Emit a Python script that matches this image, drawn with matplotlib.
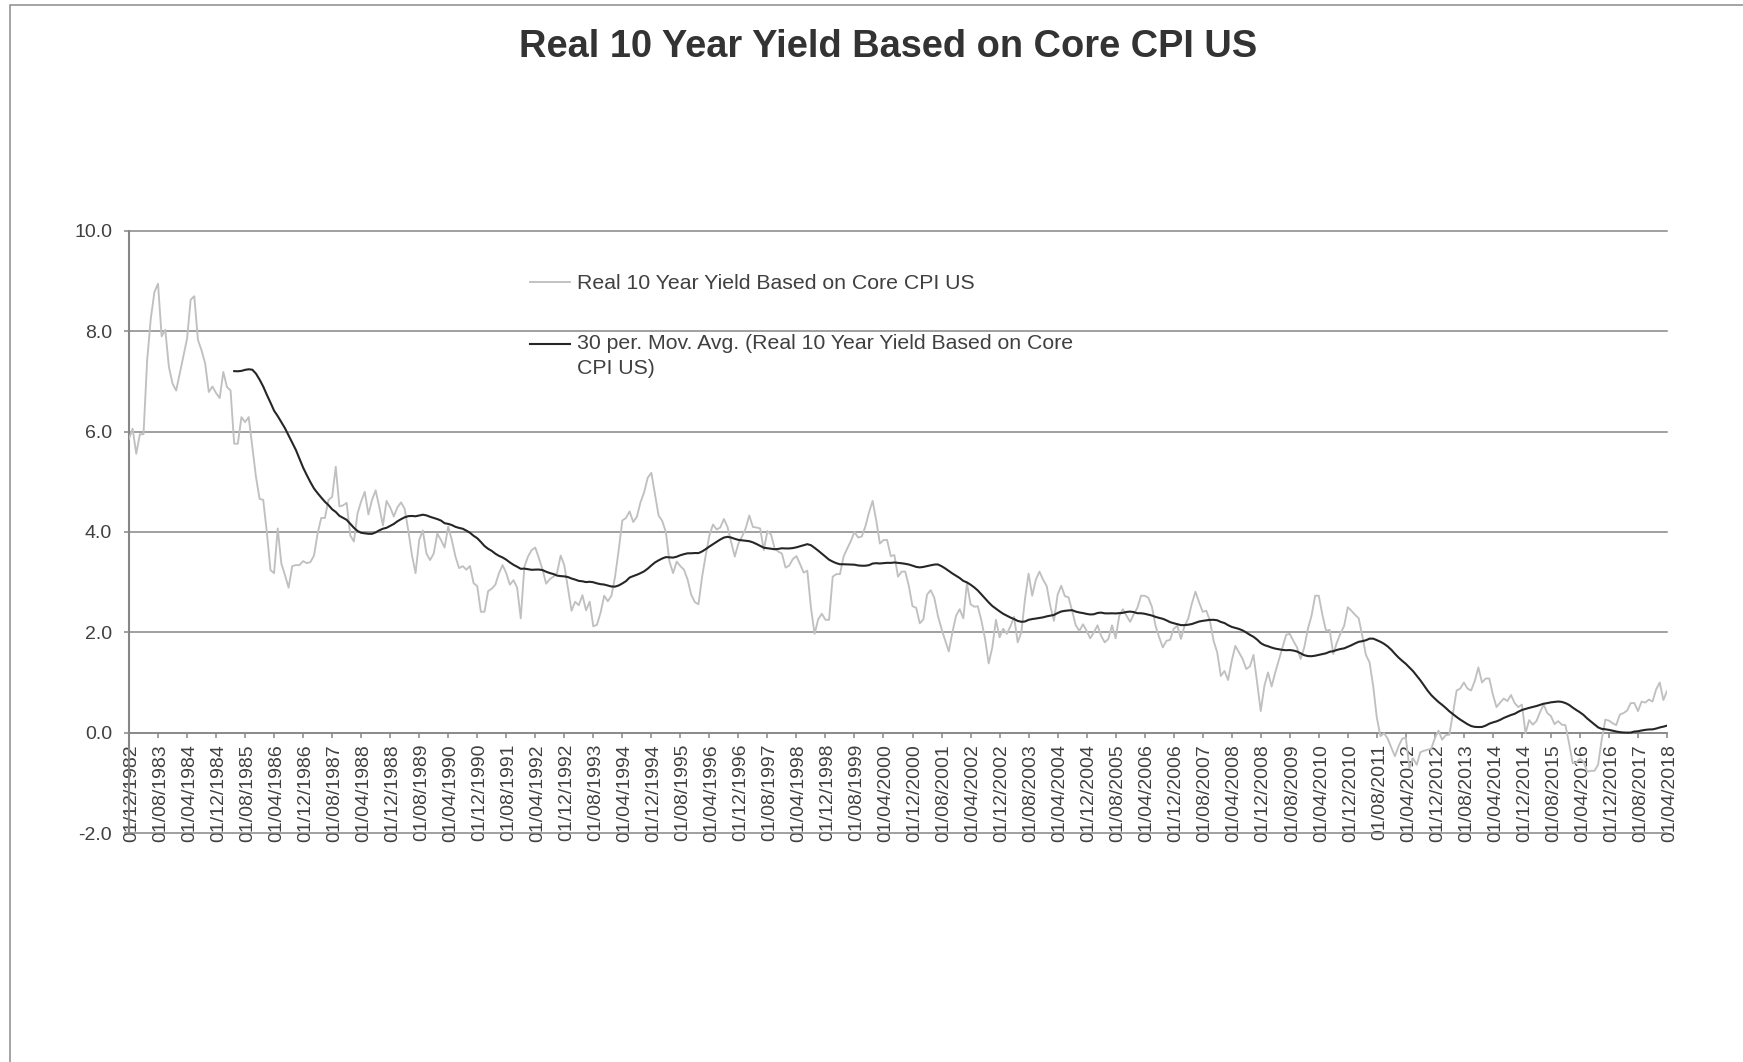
import numpy as np
import pandas as pd
import matplotlib
matplotlib.use("Agg")
import matplotlib.pyplot as plt
import matplotlib.transforms as mtransforms
from matplotlib.ticker import FixedLocator, FormatStrFormatter
from matplotlib.legend_handler import HandlerLine2D
from matplotlib.patches import Rectangle

# ---------------- data (monthly) ----------------
start_month = "1982-12-01"

yield_part1 = [  # Dec 1982 - Sep 1988
    5.86, 6.06, 5.56, 5.95, 5.95, 7.42, 8.25, 8.78, 8.95, 7.90,
    8.03, 7.29, 6.96, 6.82, 7.16, 7.49, 7.85, 8.63, 8.70, 7.83,
    7.62, 7.36, 6.79, 6.90, 6.77, 6.67, 7.19, 6.89, 6.82, 5.76,
    5.76, 6.29, 6.19, 6.29, 5.69, 5.10, 4.66, 4.64, 4.00, 3.24,
    3.18, 4.07, 3.37, 3.14, 2.89, 3.32, 3.34, 3.34, 3.42, 3.38,
    3.40, 3.53, 3.97, 4.28, 4.28, 4.64, 4.70, 5.30, 4.51, 4.53,
    4.58, 3.93, 3.81, 4.37, 4.61, 4.80, 4.35, 4.64, 4.83, 4.50,
]
yield_part2 = [  # Oct 1988 - Jul 1994
    4.13, 4.62, 4.49, 4.31, 4.49, 4.59, 4.46, 4.03, 3.54, 3.18,
    3.84, 4.03, 3.57, 3.44, 3.57, 3.97, 3.84, 3.69, 4.11, 3.84,
    3.51, 3.28, 3.32, 3.25, 3.32, 2.98, 2.92, 2.41, 2.41, 2.82,
    2.87, 2.95, 3.18, 3.34, 3.18, 2.95, 3.04, 2.89, 2.28, 3.31,
    3.51, 3.64, 3.69, 3.48, 3.25, 2.97, 3.06, 3.11, 3.18, 3.53,
    3.34, 2.89, 2.43, 2.61, 2.54, 2.74, 2.44, 2.61, 2.12, 2.15,
    2.39, 2.73, 2.62, 2.73, 3.11, 3.64, 4.23, 4.28, 4.41, 4.20,
]
yield_part3 = [  # Aug 1994 - May 2000
    4.30, 4.59, 4.79, 5.08, 5.18, 4.75, 4.33, 4.22, 4.00, 3.41,
    3.18, 3.41, 3.32, 3.25, 3.05, 2.75, 2.60, 2.56, 3.11, 3.54,
    3.93, 4.15, 4.05, 4.09, 4.26, 4.10, 3.80, 3.51, 3.77, 3.91,
    4.07, 4.33, 4.10, 4.09, 4.07, 3.64, 4.02, 3.95, 3.67, 3.61,
    3.57, 3.29, 3.33, 3.46, 3.52, 3.36, 3.19, 3.23, 2.49, 1.97,
    2.26, 2.37, 2.25, 2.25, 3.11, 3.16, 3.16, 3.51, 3.67, 3.82,
    4.00, 3.89, 3.91, 4.11, 4.39, 4.62, 4.23, 3.77, 3.84, 3.84,
]
yield_part4 = [  # Jun 2000 - Mar 2006
    3.52, 3.54, 3.11, 3.21, 3.21, 2.92, 2.52, 2.49, 2.18, 2.26,
    2.75, 2.84, 2.69, 2.33, 2.07, 1.84, 1.62, 2.00, 2.33, 2.46,
    2.28, 2.98, 2.56, 2.51, 2.52, 2.23, 1.87, 1.38, 1.70, 2.25,
    1.90, 2.07, 1.97, 2.12, 2.31, 1.80, 2.00, 2.66, 3.17, 2.73,
    3.05, 3.21, 3.05, 2.92, 2.52, 2.23, 2.75, 2.93, 2.72, 2.70,
    2.43, 2.14, 2.03, 2.16, 2.03, 1.88, 2.00, 2.14, 1.93, 1.80,
    1.87, 2.14, 1.88, 2.33, 2.46, 2.33, 2.21, 2.36, 2.49, 2.73,
]
yield_part5 = [  # Apr 2006 - Jan 2012
    2.73, 2.69, 2.51, 2.13, 1.90, 1.70, 1.83, 1.85, 2.07, 2.13,
    1.87, 2.13, 2.27, 2.57, 2.81, 2.60, 2.41, 2.43, 2.23, 1.83,
    1.60, 1.13, 1.23, 1.05, 1.43, 1.73, 1.60, 1.47, 1.27, 1.32,
    1.55, 1.00, 0.43, 0.93, 1.20, 0.92, 1.20, 1.45, 1.70, 1.95,
    1.97, 1.83, 1.70, 1.47, 1.70, 2.07, 2.33, 2.73, 2.73, 2.35,
    2.03, 2.05, 1.57, 1.80, 1.98, 2.13, 2.50, 2.43, 2.35, 2.28,
    1.93, 1.55, 1.40, 0.93, 0.30, -0.07, -0.01, -0.12, -0.30, -0.47,
]
yield_part6 = [  # Feb 2012 - Apr 2018
    -0.27, -0.12, -0.10, -0.71, -0.51, -0.64, -0.39, -0.36, -0.34, -0.32,
    -0.11, 0.04, -0.14, -0.05, -0.04, 0.39, 0.84, 0.88, 1.00, 0.88,
    0.84, 1.03, 1.30, 1.00, 1.08, 1.08, 0.76, 0.51, 0.60, 0.68,
    0.63, 0.75, 0.59, 0.51, 0.56, -0.01, 0.25, 0.16, 0.23, 0.41,
    0.56, 0.39, 0.33, 0.17, 0.23, 0.16, 0.15, -0.21, -0.61, -0.59,
    -0.52, -0.58, -0.78, -0.76, -0.76, -0.64, -0.14, 0.26, 0.24, 0.19,
    0.15, 0.36, 0.39, 0.44, 0.59, 0.59, 0.43, 0.62, 0.60, 0.66,
    0.62, 0.86, 1.00, 0.65, 0.83,
]

ma_window = 30
tick_every = 8
y_tick_values = [-2.0, 0.0, 2.0, 4.0, 6.0, 8.0, 10.0]

title_text = "Real 10 Year Yield Based on Core CPI US"
series_label = "Real 10 Year Yield Based on Core CPI US"
ma_label = "30 per. Mov. Avg. (Real 10 Year Yield Based on Core\nCPI US)"

# ---------------- derived ----------------
real_yield = np.array(yield_part1 + yield_part2 + yield_part3 +
                      yield_part4 + yield_part5 + yield_part6)
n = len(real_yield)
dates = pd.date_range(start_month, periods=n, freq="MS")
x = np.arange(n)
moving_avg = pd.Series(real_yield).rolling(ma_window).mean().to_numpy()
tick_pos = list(range(0, n, tick_every))
tick_labels = [dates[i].strftime("%d/%m/%Y") for i in tick_pos]

# ---------------- style ----------------
plt.rcParams["font.family"] = ["Liberation Sans", "DejaVu Sans"]
plt.rcParams["axes.unicode_minus"] = False

GRID = "#868686"
TXT = "#404040"

W, H = 1743, 1062
fig = plt.figure(figsize=(W / 100, H / 100), dpi=100)
fig.patch.set_facecolor("white")

# chart-area border (left and top edges visible)
fig.add_artist(Rectangle((10 / W, -0.2), 2.0, 1.2 - 5 / H, transform=fig.transFigure,
                         fill=False, edgecolor="#8c8c8c", lw=1.1, clip_on=False))

ax = fig.add_axes([129 / W, 229 / H, 1538 / W, 602 / H])

l1, = ax.plot(x, real_yield, color="#C0C0C0", lw=1.35, zorder=3, label=series_label)
l2, = ax.plot(x, moving_avg, color="#262626", lw=1.5, zorder=4, label=ma_label)

ax.set_xlim(0, n - 1)
ax.set_ylim(-2, 10)

ax.yaxis.set_major_locator(FixedLocator(y_tick_values))
ax.yaxis.set_major_formatter(FormatStrFormatter("%.1f"))
ax.set_xticks(tick_pos)
ax.set_xticklabels(tick_labels)

ax.set_axisbelow(True)
ax.yaxis.grid(True, color=GRID, lw=1.1)
for gl in ax.get_ygridlines():
    gl.set_clip_on(False)
ax.xaxis.grid(False)

for s in ["top", "right"]:
    ax.spines[s].set_visible(False)
ax.spines["left"].set_color(GRID)
ax.spines["left"].set_linewidth(1.5)
ax.spines["bottom"].set_position(("data", 0))
ax.spines["bottom"].set_color(GRID)
ax.spines["bottom"].set_linewidth(1.1)

ax.tick_params(axis="both", direction="out", length=3.6, width=1.1, color=GRID,
               labelsize=14, labelcolor=TXT)
ax.tick_params(axis="y", pad=8.5)
ax.tick_params(axis="x", pad=4.5, labelrotation=90)

offset = mtransforms.ScaledTranslation(2.5 / 100, 0, fig.dpi_scale_trans)
for lbl in ax.get_xticklabels():
    lbl.set_transform(lbl.get_transform() + offset)


class FirstLineHandler(HandlerLine2D):
    """Places the legend key level with the first line of a two-line label."""

    def __init__(self, shift, **kw):
        super().__init__(**kw)
        self.shift = shift

    def create_artists(self, legend, orig_handle, xdescent, ydescent, width,
                       height, fontsize, trans):
        arts = super().create_artists(legend, orig_handle, xdescent, ydescent,
                                      width, height, fontsize, trans)
        for a in arts:
            a.set_ydata(np.asarray(a.get_ydata(), float) + self.shift)
        return arts


leg_fs = 15.3
leg_linespacing = 1.42
leg = ax.legend(handles=[l1, l2], loc="upper left",
                bbox_to_anchor=(530 / W, 1 - 274 / H), bbox_transform=fig.transFigure,
                frameon=False, fontsize=leg_fs, handlelength=1.88, handletextpad=0.33,
                labelspacing=1.92, borderpad=0, borderaxespad=0,
                handler_map={l2: FirstLineHandler(8.8)})
for t in leg.get_texts():
    t.set_color(TXT)
    t.set_linespacing(leg_linespacing)

fig.text(888 / W, 1 - 56.5 / H, title_text, ha="center", va="baseline",
         fontsize=27.4, fontweight="bold", color="#333333")

fig.savefig("out.png", dpi=100, facecolor="white")
